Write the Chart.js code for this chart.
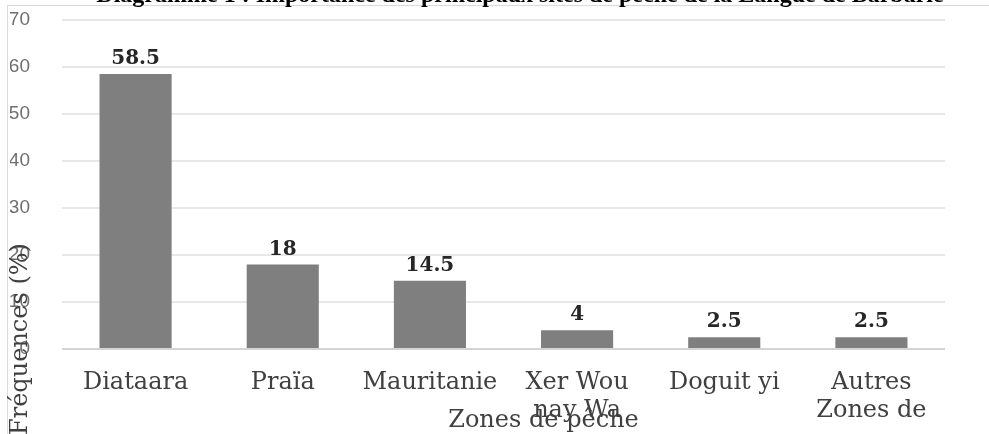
<!DOCTYPE html>
<html lang="fr">
<head>
  <meta charset="UTF-8">
  <title>Diagramme 1 - Zones de pêche</title>
  <script src="https://cdn.jsdelivr.net/npm/chart.js"></script>
  <style>
    body { margin: 0; background: #ffffff; }
    #wrap { width: 989px; height: 434px; position: relative; }
  </style>
</head>
<body>
  <div id="wrap">
    <canvas id="barChart" width="989" height="434"></canvas>
  </div>

  <script>
    const titleText = 'Diagramme 1 : Importance des principaux sites de pêche de la Langue de Barbarie';
    const categories = ['Diataara', 'Praïa', 'Mauritanie', ['Xer Wou', 'nay Wa'], 'Doguit yi', ['Autres', 'Zones de']];
    const frequencies = [58.5, 18, 14.5, 4, 2.5, 2.5];
    const yMax = 70;
    const yStep = 10;
    const xTitle = 'Zones de pêche';
    const yTitle = 'Fréquences (%)';

    const serif = "'DejaVu Serif', 'Liberation Serif', serif";

    // cadre, titre coupé en haut, titres d'axes et étiquettes de valeur
    const extras = {
      id: 'extras',
      beforeDraw(chart) {
        const ctx = chart.ctx;
        ctx.save();
        ctx.strokeStyle = '#dadada';
        ctx.lineWidth = 1;
        ctx.strokeRect(7.5, 5.5, chart.width + 10, chart.height + 10);
        ctx.restore();
      },
      afterDatasetsDraw(chart) {
        const ctx = chart.ctx;
        const area = chart.chartArea;
        const meta = chart.getDatasetMeta(0);
        ctx.save();
        ctx.fillStyle = '#262626';
        ctx.font = 'bold 20px ' + serif;
        ctx.textAlign = 'center';
        ctx.textBaseline = 'bottom';
        meta.data.forEach((bar, i) => {
          ctx.fillText(String(frequencies[i]), bar.x, bar.y - 5);
        });

        // titre (partiellement hors cadre comme dans l'original)
        ctx.fillStyle = '#000000';
        ctx.font = 'bold 24px ' + "'Liberation Serif', serif";
        ctx.textBaseline = 'alphabetic';
        ctx.fillText(titleText, 520, 2, 850);

        // titre axe x
        ctx.fillStyle = '#404040';
        ctx.font = '24px ' + serif;
        ctx.textBaseline = 'middle';
        ctx.fillText(xTitle, (area.left + area.right) / 2 + 40, 421);

        // titre axe y, par-dessus les graduations
        ctx.translate(21, area.bottom - 10);
        ctx.rotate(-Math.PI / 2);
        ctx.fillText(yTitle, 0, 0);
        ctx.restore();
      }
    };

    new Chart(document.getElementById('barChart'), {
      type: 'bar',
      data: {
        labels: categories,
        datasets: [{
          data: frequencies,
          backgroundColor: '#7f7f7f',
          borderWidth: 0,
          barPercentage: 0.49,
          categoryPercentage: 1
        }]
      },
      options: {
        responsive: false,
        animation: false,
        layout: { padding: { left: 10, right: 44, top: 20, bottom: 0 } },
        plugins: {
          legend: { display: false },
          tooltip: { enabled: false }
        },
        scales: {
          x: {
            grid: { display: false, drawTicks: false },
            border: { display: false },
            afterFit: s => { s.height = 85; s.paddingLeft = 0; s.paddingRight = 0; },
            ticks: {
              color: '#404040',
              padding: 20,
              maxRotation: 0,
              autoSkip: false,
              font: { family: serif, size: 24, lineHeight: 1.15 }
            }
          },
          y: {
            min: 0,
            max: yMax,
            border: { display: false },
            afterFit: s => { s.width = 52; s.paddingTop = 0; s.paddingBottom = 0; },
            grid: {
              drawTicks: false,
              lineWidth: 2,
              color: c => c.tick.value === 0 ? '#d4d4d4' : '#e8e8e8'
            },
            ticks: {
              stepSize: yStep,
              padding: 32,
              color: '#6f6f6f',
              font: { family: "'Liberation Sans Narrow', 'Liberation Sans', sans-serif", size: 19 }
            }
          }
        }
      },
      plugins: [extras]
    });
  </script>
</body>
</html>
